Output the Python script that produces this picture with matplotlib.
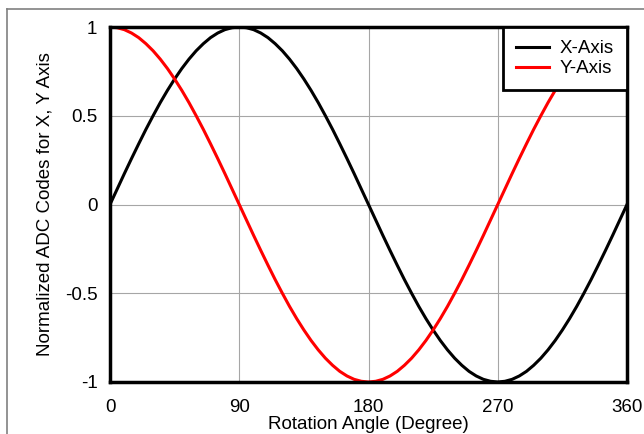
import matplotlib
matplotlib.use("Agg")
from matplotlib import pyplot as plt
from matplotlib.lines import Line2D

plt.rcParams['font.family'] = ['Liberation Sans', 'DejaVu Sans']

# angle in degrees, values every 5 degrees
angle = list(range(0, 361, 5))
x_axis = [0, 0.087, 0.174, 0.259, 0.342, 0.423, 0.5, 0.574, 0.643, 0.707, 0.766, 0.819, 0.866, 0.906, 0.94, 0.966, 0.985, 0.996, 1,
          0.996, 0.985, 0.966, 0.94, 0.906, 0.866, 0.819, 0.766, 0.707, 0.643, 0.574, 0.5, 0.423, 0.342, 0.259, 0.174, 0.087, 0,
          -0.087, -0.174, -0.259, -0.342, -0.423, -0.5, -0.574, -0.643, -0.707, -0.766, -0.819, -0.866, -0.906, -0.94, -0.966, -0.985, -0.996, -1,
          -0.996, -0.985, -0.966, -0.94, -0.906, -0.866, -0.819, -0.766, -0.707, -0.643, -0.574, -0.5, -0.423, -0.342, -0.259, -0.174, -0.087, 0]
y_axis = [1, 0.996, 0.985, 0.966, 0.94, 0.906, 0.866, 0.819, 0.766, 0.707, 0.643, 0.574, 0.5, 0.423, 0.342, 0.259, 0.174, 0.087, 0,
          -0.087, -0.174, -0.259, -0.342, -0.423, -0.5, -0.574, -0.643, -0.707, -0.766, -0.819, -0.866, -0.906, -0.94, -0.966, -0.985, -0.996, -1,
          -0.996, -0.985, -0.966, -0.94, -0.906, -0.866, -0.819, -0.766, -0.707, -0.643, -0.574, -0.5, -0.423, -0.342, -0.259, -0.174, -0.087, 0,
          0.087, 0.174, 0.259, 0.342, 0.423, 0.5, 0.574, 0.643, 0.707, 0.766, 0.819, 0.866, 0.906, 0.94, 0.966, 0.985, 0.996, 1]

xticks = [0, 90, 180, 270, 360]
yticks = [-1, -0.5, 0, 0.5, 1]
yticklabels = ['-1', '-0.5', '0', '0.5', '1']

fig = plt.figure(figsize=(6.44, 4.34), dpi=100)
ax = fig.add_axes([110/644, 1-382/434, 517/644, 355/434])

ax.plot(angle, x_axis, color='black', lw=2.2, label='X-Axis')
ax.plot(angle, y_axis, color='#ff0000', lw=2.2, label='Y-Axis')

ax.set_xlim(0, 360)
ax.set_ylim(-1, 1)
ax.set_xticks(xticks)
ax.set_yticks(yticks)
ax.set_yticklabels(yticklabels)
ax.tick_params(length=0, labelsize=13.5, pad=12)
ax.tick_params(axis='y', pad=9)
ax.grid(True, color='#a6a6a6', lw=0.8)
for s in ax.spines.values():
    s.set_linewidth(2.5)
    s.set_zorder(5)

ax.set_xlabel('Rotation Angle (Degree)', fontsize=13.5, labelpad=0)
ax.set_ylabel('Normalized ADC Codes for X, Y Axis', fontsize=13.5, labelpad=8)

leg = ax.legend(loc='upper right', fontsize=13.5, fancybox=False, framealpha=1,
                edgecolor='black', borderaxespad=0, handlelength=1.8, borderpad=0.7,
                labelspacing=0.15, handletextpad=0.55)
leg.get_frame().set_linewidth(2)
leg.set_zorder(6)

# outer frame, cut off at right and bottom
fig.add_artist(Line2D([7/644, 1], [1-9/434, 1-9/434], color='#808080', lw=1.2))
fig.add_artist(Line2D([7/644, 7/644], [0, 1-9/434], color='#808080', lw=1.2))

fig.savefig('out.png', dpi=100)
